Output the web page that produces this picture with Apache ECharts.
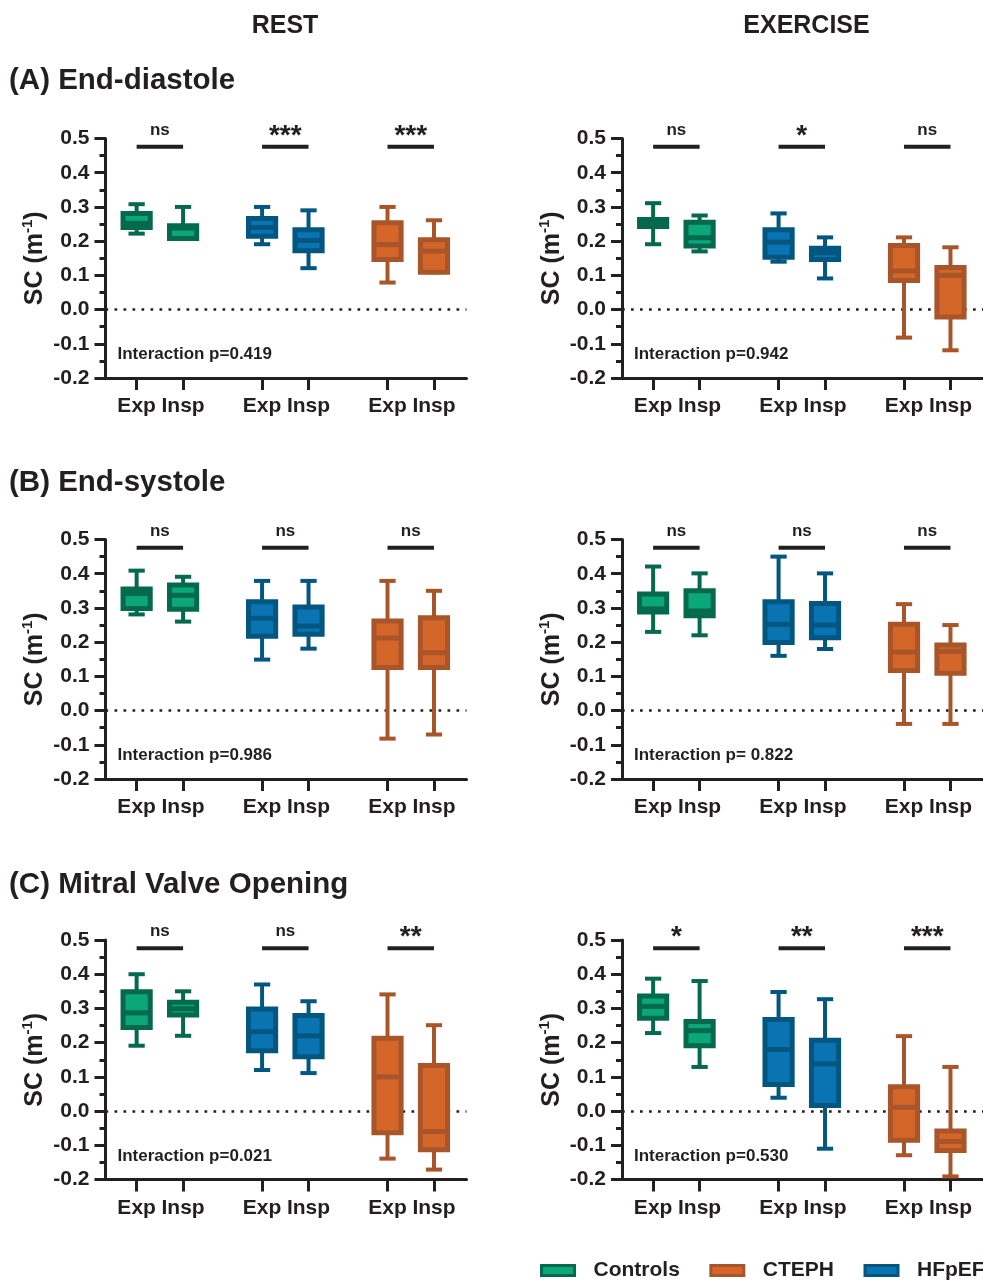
<!DOCTYPE html>
<html><head><meta charset="utf-8">
<script src="https://cdn.jsdelivr.net/npm/echarts@6/dist/echarts.min.js"></script>
<style>html,body{margin:0;padding:0;background:#fff}#chart{width:983px;height:1281px}</style>
</head><body><div id="chart"></div>
<script>
// ---------------- DATA ----------------
const groups = ['Controls', 'HFpEF', 'CTEPH'];
const legendOrder = ['Controls', 'CTEPH', 'HFpEF'];
const phases = ['Exp', 'Insp'];
const columnTitles = ['REST', 'EXERCISE'];
const panelTitles = ['(A) End-diastole', '(B) End-systole', '(C) Mitral Valve Opening'];
const yAxisName = ['SC (m', '-1', ')'];

// rows: Controls Exp, Controls Insp, HFpEF Exp, HFpEF Insp, CTEPH Exp, CTEPH Insp
// columns: [min, q1, median, q3, max]
const endDiastoleRest = [
  [0.222, 0.240, 0.252, 0.281, 0.308],
  [0.208, 0.208, 0.238, 0.245, 0.300],
  [0.191, 0.214, 0.240, 0.266, 0.300],
  [0.121, 0.172, 0.202, 0.233, 0.290],
  [0.079, 0.146, 0.190, 0.254, 0.300],
  [0.109, 0.109, 0.171, 0.204, 0.261]
];
const endDiastoleExercise = [
  [0.191, 0.243, 0.252, 0.263, 0.311],
  [0.170, 0.186, 0.210, 0.255, 0.275],
  [0.140, 0.153, 0.197, 0.233, 0.281],
  [0.091, 0.146, 0.166, 0.179, 0.211],
  [-0.082, 0.085, 0.113, 0.187, 0.211],
  [-0.119, -0.022, 0.100, 0.123, 0.182]
];
const endSystoleRest = [
  [0.281, 0.298, 0.342, 0.355, 0.409],
  [0.260, 0.296, 0.337, 0.367, 0.391],
  [0.149, 0.217, 0.270, 0.318, 0.379],
  [0.181, 0.223, 0.247, 0.303, 0.379],
  [-0.082, 0.126, 0.212, 0.262, 0.379],
  [-0.070, 0.126, 0.169, 0.271, 0.350]
];
const endSystoleExercise = [
  [0.230, 0.288, 0.297, 0.341, 0.421],
  [0.220, 0.277, 0.291, 0.350, 0.401],
  [0.160, 0.199, 0.252, 0.318, 0.450],
  [0.180, 0.213, 0.250, 0.313, 0.401],
  [-0.039, 0.117, 0.171, 0.252, 0.311],
  [-0.039, 0.109, 0.173, 0.192, 0.250]
];
const mitralOpeningRest = [
  [0.191, 0.244, 0.287, 0.349, 0.400],
  [0.220, 0.281, 0.299, 0.318, 0.350],
  [0.120, 0.176, 0.232, 0.298, 0.370],
  [0.111, 0.159, 0.220, 0.279, 0.321],
  [-0.139, -0.063, 0.100, 0.213, 0.341],
  [-0.171, -0.113, -0.060, 0.133, 0.251]
];
const mitralOpeningExercise = [
  [0.228, 0.271, 0.306, 0.336, 0.387],
  [0.129, 0.191, 0.235, 0.262, 0.380],
  [0.039, 0.078, 0.180, 0.268, 0.348],
  [-0.110, 0.016, 0.138, 0.207, 0.327],
  [-0.129, -0.085, 0.011, 0.071, 0.219],
  [-0.191, -0.115, -0.089, -0.058, 0.129]
];

const endDiastoleRestSig = ['ns', '***', '***'];
const endDiastoleExerciseSig = ['ns', '*', 'ns'];
const endSystoleRestSig = ['ns', 'ns', 'ns'];
const endSystoleExerciseSig = ['ns', 'ns', 'ns'];
const mitralOpeningRestSig = ['ns', 'ns', '**'];
const mitralOpeningExerciseSig = ['*', '**', '***'];

const interactionLabels = [
  'Interaction p=0.419', 'Interaction p=0.942',
  'Interaction p=0.986', 'Interaction p= 0.822',
  'Interaction p=0.021', 'Interaction p=0.530'
];

// y axis range / ticks
const yMin = -0.2, yMax = 0.5, yStep = 0.1;

// ---------------- LAYOUT / STYLE ----------------
const FONT = '"Liberation Sans", Arial, Helvetica, sans-serif';
const INK = '#231F20';
const fills = { Controls: '#0CA67B', HFpEF: '#0A74B3', CTEPH: '#D5662A' };
const strokes = { Controls: '#04694D', HFpEF: '#03567F', CTEPH: '#A9552A' };
const GROUP_STEP = 2.7;
const XMIN = -0.67, XMAX = 7.1;
const BOX_W = 0.585, CAP_W = 0.35;
const BOX_LW = 5, WHISKER_LW = 4;
const SIG_Y = 0.476, INTER_Y = -0.131;
const gridLefts = [105.5, 622];
const gridTops = [138.5, 539.5, 940];
const GRID_W = 361, GRID_H = 239.5;

const panels = [
  { data: endDiastoleRest, sig: endDiastoleRestSig },
  { data: endDiastoleExercise, sig: endDiastoleExerciseSig },
  { data: endSystoleRest, sig: endSystoleRestSig },
  { data: endSystoleExercise, sig: endSystoleExerciseSig },
  { data: mitralOpeningRest, sig: mitralOpeningRestSig },
  { data: mitralOpeningExercise, sig: mitralOpeningExerciseSig }
];

const tickVals = [];
const tickLabelMap = {};
groups.forEach((g, gi) => phases.forEach((p, pi) => {
  const v = +(gi * GROUP_STEP + pi).toFixed(3);
  tickVals.push(v);
  tickLabelMap[v.toFixed(3)] = p;
}));

function boxRenderer(fill, stroke) {
  return function (params, api) {
    const x = api.value(0);
    const mn = api.value(1), q1 = api.value(2), md = api.value(3), q3 = api.value(4), mx = api.value(5);
    const px = api.coord([x, md])[0];
    const yy = v => api.coord([x, v])[1];
    const hw = api.size([BOX_W, 0])[0] / 2;
    const ch = api.size([CAP_W, 0])[0] / 2;
    const ls = { stroke: stroke, lineWidth: WHISKER_LW, fill: null };
    return {
      type: 'group',
      children: [
        { type: 'line', shape: { x1: px, y1: yy(mx), x2: px, y2: yy(q3) }, style: ls },
        { type: 'line', shape: { x1: px, y1: yy(q1), x2: px, y2: yy(mn) }, style: ls },
        { type: 'line', shape: { x1: px - ch, y1: yy(mx), x2: px + ch, y2: yy(mx) }, style: ls },
        { type: 'line', shape: { x1: px - ch, y1: yy(mn), x2: px + ch, y2: yy(mn) }, style: ls },
        { type: 'rect', shape: { x: px - hw, y: yy(q3), width: 2 * hw, height: yy(q1) - yy(q3) },
          style: { fill: fill, stroke: stroke, lineWidth: BOX_LW } },
        { type: 'line', shape: { x1: px - hw, y1: yy(md), x2: px + hw, y2: yy(md) },
          style: { stroke: stroke, lineWidth: BOX_LW } }
      ]
    };
  };
}

function sigRenderer(labels) {
  return function (params, api) {
    const a = api.coord([api.value(0), api.value(2)]);
    const b = api.coord([api.value(1), api.value(2)]);
    const txt = labels[params.dataIndex];
    const star = txt.indexOf('*') >= 0;
    return {
      type: 'group',
      children: [
        { type: 'line', shape: { x1: a[0], y1: a[1], x2: b[0], y2: b[1] },
          style: { stroke: INK, lineWidth: 4 } },
        { type: 'text', style: {
            text: txt, x: (a[0] + b[0]) / 2, y: a[1] - (star ? 10.5 : 16.5),
            align: 'center', verticalAlign: 'middle',
            font: 'bold ' + (star ? 28 : 17) + 'px ' + FONT, fill: INK } }
      ]
    };
  };
}

function interRenderer(label) {
  return function (params, api) {
    const p = api.coord([api.value(0), api.value(1)]);
    return {
      type: 'text', style: {
        text: label, x: p[0] + 12, y: p[1], align: 'left', verticalAlign: 'middle',
        font: 'bold 17px ' + FONT, fill: INK }
    };
  };
}

const grid = [], xAxis = [], yAxis = [], series = [];
panels.forEach((panel, i) => {
  const row = Math.floor(i / 2), col = i % 2;
  grid.push({ left: gridLefts[col], top: gridTops[row], width: GRID_W, height: GRID_H });
  xAxis.push({
    type: 'value', gridIndex: i, min: XMIN, max: XMAX,
    splitLine: { show: false },
    axisLine: { show: true, onZero: false, lineStyle: { color: INK, width: 3 } },
    axisTick: { show: true, customValues: tickVals, length: 12, lineStyle: { color: INK, width: 3 } },
    axisLabel: { customValues: tickVals, margin: 18, color: INK, fontSize: 21, fontWeight: 'bold', fontFamily: FONT,
      formatter: v => tickLabelMap[Number(v).toFixed(3)] || '' }
  });
  yAxis.push({
    type: 'value', gridIndex: i, min: yMin, max: yMax, interval: yStep,
    name: '{b|' + yAxisName[0] + '}{sup|' + yAxisName[1] + '}{b|' + yAxisName[2] + '}',
    nameLocation: 'middle', nameRotate: 90, nameGap: 55,
    nameTextStyle: { color: INK, fontFamily: FONT,
      rich: {
        b: { fontSize: 25, fontWeight: 'bold', color: INK, fontFamily: FONT, lineHeight: 30 },
        sup: { fontSize: 15, fontWeight: 'bold', color: INK, fontFamily: FONT, verticalAlign: 'top', lineHeight: 30, padding: [0, 0, 10, 0] }
      } },
    splitLine: { show: false },
    axisLine: { show: true, onZero: false, lineStyle: { color: INK, width: 3 } },
    axisTick: { show: true, length: 11, lineStyle: { color: INK, width: 3 } },
    minorTick: { show: true, splitNumber: 2, length: 6, lineStyle: { color: INK, width: 3 } },
    axisLabel: { margin: 16, color: INK, fontSize: 21, fontWeight: 'bold', fontFamily: FONT,
      formatter: v => (Math.abs(v) < 1e-9 ? 0 : v).toFixed(1) }
  });
  groups.forEach((g, gi) => {
    series.push({
      type: 'custom', name: g, xAxisIndex: i, yAxisIndex: i, z: 3,
      itemStyle: { color: fills[g], borderColor: strokes[g] },
      encode: { x: 0, y: [1, 2, 3, 4, 5] },
      data: phases.map((p, pi) => [gi * GROUP_STEP + pi].concat(panel.data[gi * 2 + pi])),
      renderItem: boxRenderer(fills[g], strokes[g])
    });
  });
  series.push({
    type: 'custom', name: 'sig' + i, xAxisIndex: i, yAxisIndex: i, z: 3,
    encode: { x: [0, 1], y: 2 },
    data: groups.map((g, gi) => [gi * GROUP_STEP, gi * GROUP_STEP + 1, SIG_Y]),
    renderItem: sigRenderer(panel.sig),
    markLine: {
      silent: true, symbol: 'none', z: 1, label: { show: false },
      lineStyle: { color: INK, width: 2.7, type: [2.7, 6.3] },
      data: [{ yAxis: 0 }]
    }
  });
  series.push({
    type: 'custom', name: 'inter' + i, xAxisIndex: i, yAxisIndex: i, z: 3,
    encode: { x: 0, y: 1 },
    data: [[XMIN, INTER_Y]],
    renderItem: interRenderer(interactionLabels[i])
  });
});

const graphic = [
  { type: 'text', x: 285, y: 26, style: { text: columnTitles[0], align: 'center', verticalAlign: 'middle', font: 'bold 25px ' + FONT, fill: INK } },
  { type: 'text', x: 806.5, y: 26, style: { text: columnTitles[1], align: 'center', verticalAlign: 'middle', font: 'bold 25px ' + FONT, fill: INK } },
  { type: 'text', x: 9, y: 81, style: { text: panelTitles[0], align: 'left', verticalAlign: 'middle', font: 'bold 29.5px ' + FONT, fill: INK } },
  { type: 'text', x: 9, y: 483, style: { text: panelTitles[1], align: 'left', verticalAlign: 'middle', font: 'bold 29.5px ' + FONT, fill: INK } },
  { type: 'text', x: 9, y: 885, style: { text: panelTitles[2], align: 'left', verticalAlign: 'middle', font: 'bold 29.5px ' + FONT, fill: INK } }
];

const chart = echarts.init(document.getElementById('chart'), null, { renderer: 'canvas' });
chart.setOption({
  animation: false,
  backgroundColor: '#fff',
  graphic: graphic,
  grid: grid, xAxis: xAxis, yAxis: yAxis, series: series,
  legend: {
    selectedMode: false, left: 540, top: 1260, width: 470, padding: 0, icon: 'rect', itemWidth: 33, itemHeight: 10, itemGap: 29.5,
    textStyle: { color: INK, fontSize: 21, fontWeight: 'bold', fontFamily: FONT, padding: [0, 0, 0, 14] },
    data: legendOrder.map(g => ({ name: g, itemStyle: { color: fills[g], borderColor: strokes[g], borderWidth: 3 } }))
  }
});
</script></body></html>
